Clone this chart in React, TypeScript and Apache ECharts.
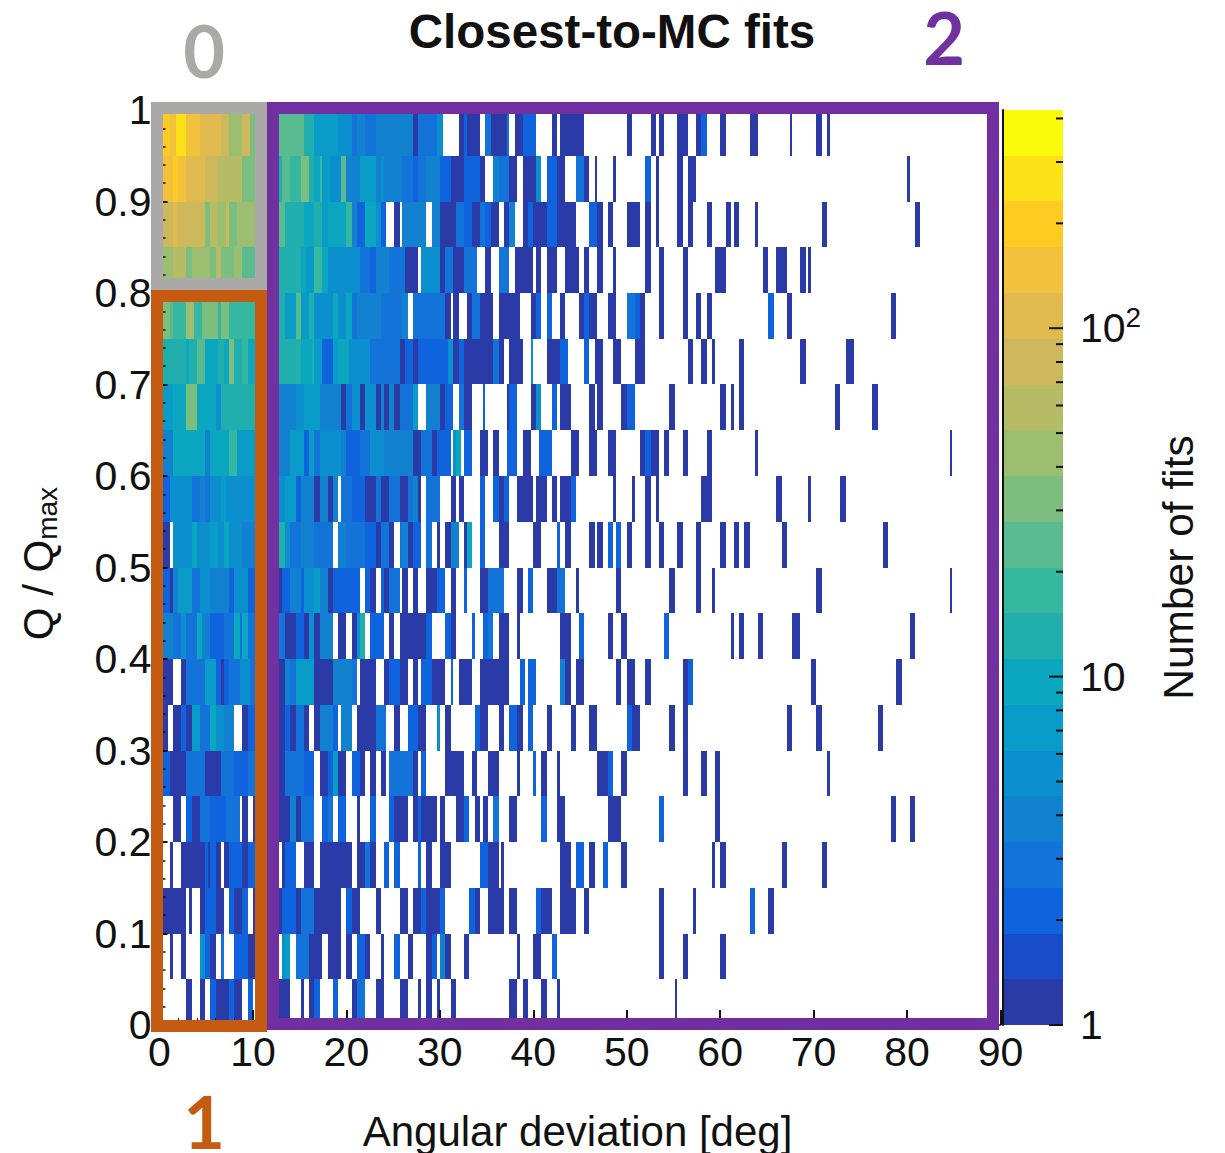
import React, { useEffect, useRef } from "react";
import * as echarts from "echarts";

// Each run is [first column, end column, number of fits]; the histogram has 315 columns over 0-90 deg.
const columnCount = 315;
const row19 = [[0,4,200],[4,6,150],[6,10,270],[10,15,150],[15,23,110],[23,26,80],[26,31,44],[31,34,80],[34,38,32],
  [42,54,24],[54,58,13],[58,67,7],[67,72,5],[72,74,3],[74,77,4],[77,81,3],[81,95,4],[95,97,1],[97,104,3],[104,106,5],[112,114,1],[114,115,2],[115,120,1],[122,124,3],[124,130,1],[130,131,3],[133,136,1],[136,141,2],[147,149,1],[150,156,1],[156,159,1],[175,177,1],[184,186,1],[187,189,1],[194,198,1],[201,203,1],[203,205,2],[210,212,1],[221,224,1],[236,237,1],[246,248,1],[250,251,1]];
const row18 = [[0,5,150],[5,7,200],[7,10,150],[10,17,110],[17,22,80],[22,31,60],[31,38,32],
  [42,46,13],[46,49,24],[49,53,18],[53,56,32],[56,58,13],[58,60,10],[60,61,18],[61,64,7],[64,67,5],[67,68,5],[68,70,24],[70,75,4],[75,81,7],[81,83,4],[83,84,5],[84,91,4],[91,95,3],[95,97,2],[97,100,3],[100,105,4],[105,109,2],[109,114,1],[114,120,2],[120,122,1],[125,127,4],[127,131,3],[131,134,1],[136,141,1],[141,143,5],[145,149,2],[149,152,1],[156,159,3],[159,161,1],[163,164,1],[170,171,1],[182,184,2],[186,187,1],[194,196,1],[198,201,1],[280,281,1]];
const row17 = [[0,5,80],[5,7,110],[7,17,80],[17,19,32],[19,22,60],[22,25,44],[25,26,80],[26,29,32],[29,38,44],
  [42,47,24],[47,49,13],[49,54,13],[54,58,10],[58,61,13],[61,63,7],[63,70,10],[70,72,18],[72,74,4],[74,77,2],[77,81,10],[81,83,5],[83,85,2],[88,90,1],[91,95,4],[95,100,4],[102,105,4],[105,111,1],[111,114,3],[114,117,2],[117,120,1],[120,122,3],[122,124,2],[124,127,1],[129,131,1],[131,133,4],[136,138,1],[138,140,2],[140,145,1],[145,149,2],[149,156,1],[161,164,2],[164,166,1],[168,170,1],[175,180,1],[182,184,1],[186,187,1],[194,196,1],[198,200,1],[205,207,1],[212,214,1],[215,217,1],[223,224,1],[248,250,1],[283,285,1]];
const row16 = [[0,5,44],[5,10,60],[10,12,32],[12,19,44],[19,21,32],[21,23,60],[23,28,32],[28,31,44],[31,38,24],
  [42,53,13],[53,55,10],[55,58,7],[58,61,18],[61,63,10],[63,75,5],[75,79,3],[79,81,2],[81,86,4],[86,92,3],[92,97,1],[98,105,5],[105,107,1],[107,110,3],[110,114,1],[114,119,3],[122,124,1],[127,131,3],[133,140,1],[141,143,1],[145,149,1],[152,157,1],[159,161,1],[164,166,1],[170,171,1],[182,184,1],[187,189,1],[196,198,1],[208,212,1],[226,228,1],[231,235,1],[240,242,1],[243,244,1]];
const row15 = [[0,4,32],[4,5,24],[5,10,18],[10,13,44],[13,16,18],[16,22,32],[22,23,18],[23,26,32],[26,38,18],
  [42,47,13],[47,51,7],[51,53,24],[53,56,7],[56,58,13],[58,65,5],[65,67,10],[67,70,5],[70,72,10],[72,74,3],[74,83,4],[83,91,3],[91,93,4],[95,107,3],[107,109,1],[110,112,1],[115,117,1],[117,120,3],[120,125,1],[127,135,1],[139,141,1],[141,143,2],[145,147,2],[150,152,1],[157,159,1],[159,161,2],[161,164,1],[168,171,1],[175,178,3],[178,180,2],[180,182,1],[187,189,1],[196,198,1],[201,203,1],[205,207,1],[228,230,2],[235,237,1],[274,276,1]];
const row14 = [[0,10,13],[10,11,10],[11,14,13],[14,17,24],[17,22,10],[22,24,13],[24,26,10],[26,28,32],[28,31,13],[31,33,18],[33,38,10],
  [42,53,13],[53,57,10],[57,58,13],[58,61,7],[61,65,2],[65,67,7],[67,71,10],[71,79,5],[79,90,3],[90,92,1],[92,95,2],[95,97,1],[97,108,2],[108,110,5],[110,112,1],[112,114,2],[114,125,1],[125,127,3],[127,129,1],[131,136,1],[139,140,5],[145,150,1],[150,153,2],[159,161,2],[163,164,1],[164,166,1],[170,173,1],[178,182,1],[198,200,1],[203,205,1],[207,208,1],[217,219,1],[240,242,1],[257,260,1]];
const row13 = [[0,5,7],[5,10,10],[10,14,32],[14,21,10],[21,23,5],[23,38,13],
  [42,51,4],[51,54,5],[54,60,7],[60,68,4],[68,70,1],[70,72,3],[72,75,5],[75,77,1],[77,81,5],[81,83,1],[83,84,4],[84,86,1],[86,88,4],[88,90,1],[90,95,3],[95,97,7],[100,105,4],[105,107,1],[107,110,2],[112,114,3],[114,117,1],[121,122,2],[130,131,1],[131,134,2],[139,141,1],[141,143,5],[147,149,2],[150,154,1],[161,163,1],[164,166,1],[173,175,1],[175,178,2],[191,193,1],[210,212,1],[214,215,1],[217,219,1],[253,255,1],[267,269,1]];
const row12 = [[0,5,4],[5,17,10],[17,19,4],[19,26,10],[26,29,18],[29,38,7],
  [42,49,4],[49,54,7],[54,56,2],[56,58,7],[58,60,3],[60,68,5],[68,70,4],[70,75,2],[75,79,3],[79,84,5],[84,95,4],[95,98,1],[98,102,3],[102,104,1],[104,109,2],[110,111,5],[111,113,10],[114,117,2],[120,123,1],[125,127,1],[130,134,2],[136,139,1],[142,147,2],[154,157,1],[161,164,1],[168,171,1],[180,182,1],[182,184,2],[184,187,1],[189,191,1],[196,198,1],[205,207,1],[223,224,1],[296,297,1]];
const row11 = [[0,4,2],[4,12,5],[12,15,3],[15,17,4],[17,19,3],[19,23,5],[23,25,7],[25,38,5],
  [42,47,5],[47,51,7],[51,53,2],[53,58,4],[58,60,1],[60,63,4],[63,65,1],[65,67,4],[68,72,3],[72,77,2],[77,81,1],[81,83,3],[83,86,1],[86,90,3],[90,93,1],[93,95,3],[95,97,4],[97,98,1],[100,105,3],[109,111,1],[112,114,1],[120,122,2],[125,127,2],[127,129,1],[129,131,2],[134,140,1],[141,145,1],[147,149,1],[150,154,1],[154,156,2],[170,171,1],[177,178,1],[182,184,1],[186,187,1],[203,207,1],[231,233,1],[243,244,1],[255,257,1]];
const row10 = [[0,4,1],[5,12,5],[12,14,10],[14,19,5],[19,22,7],[22,24,5],[24,26,10],[26,31,5],[31,38,4],
  [42,47,13],[47,49,5],[49,53,3],[53,58,4],[58,65,3],[67,70,4],[70,77,3],[77,81,2],[81,83,1],[83,86,3],[86,88,1],[90,91,3],[91,93,4],[93,95,1],[95,98,2],[100,102,3],[104,105,1],[107,109,1],[109,112,4],[114,115,1],[115,117,10],[120,122,2],[127,131,1],[140,143,1],[149,150,2],[152,154,1],[161,163,1],[164,166,1],[168,170,2],[171,173,2],[175,177,1],[182,184,1],[187,189,1],[194,196,1],[201,203,1],[210,212,1],[215,217,1],[219,221,1],[233,235,1],[271,273,1]];
const row09 = [[0,4,2],[4,5,1],[5,7,4],[7,12,7],[12,15,3],[15,19,5],[19,26,4],[26,28,2],[28,33,5],[33,38,2],
  [42,46,1],[46,49,2],[49,53,4],[53,54,2],[54,58,5],[58,60,7],[60,63,4],[63,65,1],[65,75,2],[77,79,2],[79,81,1],[83,84,2],[84,86,1],[86,90,3],[91,93,1],[95,97,1],[100,104,1],[104,107,2],[109,111,1],[114,115,2],[120,123,1],[123,129,3],[134,136,1],[138,140,2],[145,149,1],[149,152,3],[156,157,1],[171,173,1],[191,193,1],[201,203,1],[207,208,1],[246,248,1],[296,297,1]];
const row08 = [[0,5,4],[5,8,3],[8,10,5],[10,14,3],[14,16,10],[16,19,4],[19,24,2],[24,28,3],[28,30,10],[30,31,3],[31,33,10],[33,38,3],
  [42,47,3],[47,51,1],[51,54,2],[54,56,1],[56,58,5],[58,60,1],[60,65,4],[67,70,1],[72,74,1],[74,75,5],[75,77,13],[79,84,2],[86,88,1],[90,100,1],[100,102,2],[107,109,2],[109,111,1],[117,118,2],[121,123,2],[123,125,3],[127,131,1],[134,135,1],[150,154,1],[157,159,2],[168,170,1],[173,175,1],[189,191,2],[214,215,1],[217,219,1],[224,226,1],[237,240,1],[281,283,1]];
const row07 = [[0,5,1],[8,10,1],[10,17,3],[17,21,7],[21,23,2],[23,24,1],[24,26,2],[26,30,3],[30,34,5],[34,38,3],
  [42,47,1],[47,49,4],[49,51,3],[51,58,7],[58,65,1],[65,72,4],[72,74,3],[75,77,1],[77,81,1],[84,86,1],[86,90,2],[90,93,1],[95,97,1],[98,102,2],[102,107,1],[109,110,2],[112,117,1],[120,131,1],[135,137,2],[138,141,2],[150,152,4],[152,154,1],[156,159,1],[171,173,1],[175,178,1],[182,184,1],[196,198,1],[198,200,2],[244,246,1],[276,278,1]];
const row06 = [[0,3,1],[5,8,1],[8,10,2],[10,12,1],[12,15,7],[15,19,3],[19,21,10],[21,24,5],[24,28,4],[31,33,1],[33,38,2],
  [42,47,1],[47,49,2],[49,51,1],[51,54,3],[54,56,1],[58,60,1],[60,65,4],[65,67,2],[68,72,4],[74,81,1],[81,85,3],[88,90,1],[93,97,2],[97,100,1],[104,105,5],[107,109,1],[118,120,2],[120,123,1],[127,129,1],[131,134,2],[134,136,1],[138,140,2],[145,147,1],[154,156,1],[161,164,1],[175,177,2],[177,180,1],[191,193,1],[196,198,1],[235,237,1],[246,248,1],[269,271,1]];
const row05 = [[0,4,2],[4,10,1],[10,17,3],[17,23,1],[23,28,3],[28,33,2],[33,38,3],
  [42,47,1],[47,54,3],[54,58,2],[60,63,1],[63,65,2],[65,67,7],[67,70,1],[72,75,2],[75,77,1],[79,81,1],[83,85,1],[86,95,3],[95,97,1],[98,100,2],[107,114,1],[117,119,1],[123,127,1],[134,135,1],[140,141,2],[143,145,1],[149,150,1],[164,168,1],[168,170,2],[173,175,1],[196,198,1],[203,205,1],[208,210,1],[250,251,1]];
const row04 = [[5,8,1],[10,12,2],[12,15,1],[15,19,3],[19,25,2],[25,30,3],[31,33,1],[35,38,1],
  [42,49,1],[49,51,4],[51,53,1],[53,58,3],[61,63,2],[63,65,3],[67,70,2],[74,75,1],[79,81,2],[86,88,2],[88,93,1],[95,97,1],[97,98,2],[98,104,1],[105,107,1],[111,114,1],[114,116,2],[118,120,1],[121,123,1],[125,127,3],[131,134,1],[143,145,2],[149,152,1],[168,173,1],[187,189,2],[208,210,1],[274,276,1],[281,283,1]];
const row03 = [[4,5,1],[8,17,1],[17,18,2],[18,19,1],[19,21,2],[21,23,1],[24,26,1],[26,31,2],[31,33,1],[33,38,2],
  [46,47,1],[47,51,2],[54,58,1],[60,72,1],[74,77,1],[77,79,3],[79,81,1],[84,86,2],[88,90,2],[97,98,2],[100,102,1],[105,109,1],[120,123,2],[123,127,1],[128,129,1],[150,154,1],[156,159,2],[161,163,1],[166,168,2],[173,175,1],[207,208,1],[210,212,1],[233,235,1],[248,250,1]];
const row02 = [[0,10,1],[11,12,1],[15,17,1],[17,21,2],[21,24,1],[26,28,2],[28,31,1],[31,33,2],[35,38,1],
  [42,46,1],[46,51,2],[51,53,1],[53,58,3],[58,68,1],[70,72,2],[72,75,1],[81,83,1],[90,93,1],[95,98,1],[98,100,2],[100,105,1],[105,107,2],[116,118,2],[118,120,1],[123,129,1],[131,134,1],[141,143,2],[143,147,1],[150,156,1],[159,161,1],[187,189,1],[200,201,1],[221,223,2],[228,230,1]];
const row01 = [[4,5,1],[8,10,1],[15,17,5],[17,19,2],[19,21,1],[23,24,3],[28,33,2],[33,38,1],
  [46,47,5],[47,49,7],[51,56,3],[56,61,1],[63,68,1],[70,72,1],[74,77,2],[77,79,1],[83,84,1],[88,90,2],[93,95,1],[100,102,1],[102,104,2],[105,107,4],[107,109,1],[114,116,1],[134,135,1],[140,143,1],[147,149,2],[187,189,1],[196,198,1],[210,212,1]];
const row00 = [[10,12,1],[15,17,1],[19,21,2],[21,26,1],[26,28,2],[28,31,1],[33,35,2],[36,38,1],
  [42,49,1],[53,54,1],[56,58,1],[58,60,2],[65,67,2],[72,74,1],[74,77,3],[81,84,1],[90,93,1],[97,98,1],[100,102,1],[104,105,1],[109,111,1],[131,134,1],[136,138,1],[143,145,1],[149,150,1],[193,194,1]];

const rows = [row00,row01,row02,row03,row04,row05,row06,row07,row08,row09,row10,row11,row12,row13,row14,row15,row16,row17,row18,row19];
const rowStep = 0.05;

const palette = ["#2A3BA8","#184CC8","#0F63DC","#1473D8","#1281D0","#0C8FCE","#0A9CC8","#0BA7C0","#20AFAC","#35B7A0",
  "#5ABB90","#7BBE80","#9CBE70","#B6BB66","#CDB85C","#E0BA4E","#F2C23C","#FFCB22","#FCE018","#F9FB0B"];
const colorMax = 423;

const xTicks = [0,10,20,30,40,50,60,70,80,90];
const yTickLabels = ["0","0.1","0.2","0.3","0.4","0.5","0.6","0.7","0.8","0.9","1"];
const colorMajorTicks = [1,10,100];
const colorMinorTicks = [2,3,4,5,6,7,8,9,20,30,40,50,60,70,80,90,200,300,400];

const titleText = "Closest-to-MC fits";
const xName = "Angular deviation [deg]";
const colorName = "Number of fits";

const GRAY = "#ABA9A8";
const ORANGE = "#C55A11";
const PURPLE = "#7030A0";
const FONT = "Liberation Sans";
const LOG_MAX = Math.log10(colorMax);

function bandOf(n: number) {
  return Math.min(palette.length - 1, Math.floor((Math.log10(n) / LOG_MAX) * palette.length));
}

const cells: number[][] = [];
rows.forEach((row, r) => {
  row.forEach(([b0, b1, n]) => {
    cells.push([(b0 * 90) / columnCount, (b1 * 90) / columnCount, r * rowStep, (r + 1) * rowStep, n]);
  });
});

const colorTickData = [
  ...colorMajorTicks.map((v) => [Math.log10(v), 14]),
  ...colorMinorTicks.map((v) => [Math.log10(v), 7]),
];

function rectItem(api: any, x0: number, x1: number, y0: number, y1: number, fill: string) {
  const a = api.coord([x0, y0]);
  const b = api.coord([x1, y1]);
  const left = Math.round(a[0]);
  const right = Math.round(b[0]);
  const top = Math.round(b[1]);
  const bottom = Math.round(a[1]);
  return {
    type: "rect",
    shape: { x: left, y: top, width: right - left, height: bottom - top },
    style: { fill },
  };
}

export default function App() {
  const ref = useRef<HTMLDivElement>(null);
  useEffect(() => {
    document.body.style.margin = "0";
    const chart = echarts.init(ref.current!, undefined, { renderer: "svg" });
    const frame = (x: number, y: number, width: number, height: number, stroke: string) => ({
      type: "rect",
      z: 20,
      shape: { x, y, width, height },
      style: { fill: "none", stroke, lineWidth: 12, lineJoin: "miter" },
    });
    const digit = (text: string, x: number, y: number, fill: string) => ({
      type: "text",
      z: 20,
      x,
      y,
      style: { text, fill, font: "700 72px Lato", lineHeight: 56, textAlign: "center", textVerticalAlign: "middle" },
    });
    chart.setOption({
      animation: false,
      backgroundColor: "#ffffff",
      title: {
        text: titleText,
        left: 607,
        top: 2,
        textAlign: "center",
        textStyle: { fontFamily: FONT, fontWeight: "bold", fontSize: 47.5, color: "#111" },
      },
      grid: [
        { left: 159.5, right: 224.5, top: 110, bottom: 128, outerBoundsMode: "none" },
        { left: 1003, right: 162, top: 110, bottom: 128, outerBoundsMode: "none" },
      ],
      xAxis: [
        {
          gridIndex: 0,
          type: "value",
          min: 0,
          max: 90,
          interval: 10,
          z: 5,
          name: xName,
          nameLocation: "middle",
          nameGap: 85,
          nameTextStyle: { fontFamily: FONT, fontSize: 42, color: "#111", padding: [0, 5, 0, 0] },
          axisLine: { lineStyle: { color: "#111", width: 1.5 } },
          axisTick: { inside: true, length: 15, lineStyle: { color: "#111", width: 2 } },
          minorTick: { show: true, splitNumber: 5, length: 7, lineStyle: { color: "#111", width: 1 } },
          axisLabel: {
            margin: 6,
            fontFamily: FONT,
            fontSize: 41,
            color: "#111",
            customValues: xTicks,
          },
          splitLine: { show: false },
        },
        { gridIndex: 1, type: "value", min: 0, max: 1, show: false },
      ],
      yAxis: [
        {
          gridIndex: 0,
          type: "value",
          min: 0,
          max: 1,
          interval: 0.1,
          z: 5,
          name: "{q|Q / Q}{s|max}",
          nameLocation: "middle",
          nameGap: 98,
          nameRotate: 90,
          nameTextStyle: {
            padding: [0, 0, 0, 8],
            rich: {
              q: { fontFamily: FONT, fontSize: 42, color: "#111" },
              s: { fontFamily: FONT, fontSize: 28, color: "#111", padding: [18, 0, 0, 0] },
            },
          },
          axisLine: { lineStyle: { color: "#111", width: 1.5 } },
          axisTick: { inside: true, length: 8, lineStyle: { color: "#111", width: 2 } },
          minorTick: { show: true, splitNumber: 5, length: 6, lineStyle: { color: "#111", width: 1.5 } },
          axisLabel: {
            margin: 8,
            fontFamily: FONT,
            fontSize: 41,
            color: "#111",
            formatter: (_v: number, i: number) => yTickLabels[i],
          },
          splitLine: { show: false },
        },
        {
          gridIndex: 1,
          type: "value",
          min: 0,
          max: LOG_MAX,
          position: "right",
          z: 5,
          name: colorName,
          nameLocation: "middle",
          nameGap: 94,
          nameRotate: 90,
          nameTextStyle: { fontFamily: FONT, fontSize: 42.5, color: "#111" },
          axisLine: { lineStyle: { color: "#111", width: 2 } },
          axisTick: { show: false },
          axisLabel: {
            margin: 17,
            align: "left",
            color: "#111",
            customValues: colorMajorTicks.map((v) => Math.log10(v)),
            formatter: (v: number) => (v >= 2 ? "{b|10}{e|2}" : v >= 1 ? "{b|10}" : "{b|1}"),
            rich: {
              b: { fontFamily: FONT, fontSize: 41, color: "#111" },
              e: { fontFamily: FONT, fontSize: 28, color: "#111", padding: [0, 0, 22, 0] },
            },
          },
          splitLine: { show: false },
        },
      ],
      series: [
        {
          type: "custom",
          name: "Closest-to-MC fits",
          xAxisIndex: 0,
          yAxisIndex: 0,
          clip: true,
          data: cells,
          encode: { x: [0, 1], y: [2, 3] },
          renderItem: (_p: any, api: any) =>
            rectItem(api, api.value(0), api.value(1), api.value(2), api.value(3), palette[bandOf(api.value(4))]),
        },
        {
          type: "custom",
          name: "Colour scale",
          xAxisIndex: 1,
          yAxisIndex: 1,
          clip: false,
          data: palette.map((_c, k) => [k]),
          encode: { y: 0 },
          renderItem: (_p: any, api: any) => {
            const k = api.value(0);
            return rectItem(
              api,
              0,
              1,
              (k / palette.length) * LOG_MAX,
              ((k + 1) / palette.length) * LOG_MAX,
              palette[k],
            );
          },
        },
        {
          type: "custom",
          name: "Colour scale ticks",
          xAxisIndex: 1,
          yAxisIndex: 1,
          clip: false,
          z: 6,
          data: colorTickData,
          encode: { y: 0 },
          renderItem: (_p: any, api: any) => {
            const c = api.coord([1, api.value(0)]);
            return {
              type: "line",
              shape: { x1: c[0], y1: c[1], x2: c[0] - api.value(1), y2: c[1] },
              style: { stroke: "#111", lineWidth: 2 },
            };
          },
        },
      ],
      graphic: [
        frame(273, 108, 720, 916, PURPLE),
        frame(157, 108, 104, 176, GRAY),
        frame(157, 296, 104, 730, ORANGE),
        digit("0", 204, 50, GRAY),
        digit("1", 204, 1121, ORANGE),
        digit("2", 944, 37, PURPLE),
      ],
    });
    return () => chart.dispose();
  }, []);
  return <div ref={ref} style={{ width: 1225, height: 1153 }} />;
}
